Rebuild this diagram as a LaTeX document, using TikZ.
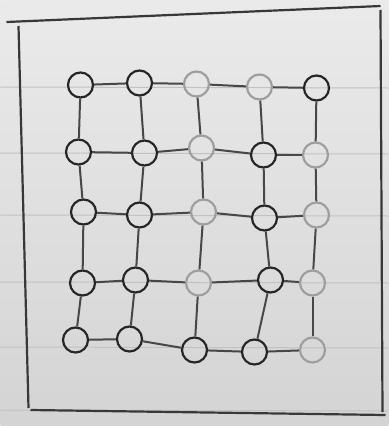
\documentclass[tikz,border=0pt]{standalone}
\begin{document}
\begin{tikzpicture}[x=1pt,y=-1pt,
  pencil/.style={draw=black!78, line width=2.2pt},
  edge/.style={draw=black!72, line width=2pt},
  ball/.style={circle, draw=black!85, line width=2.2pt, minimum size=25pt, inner sep=0pt},
  fball/.style={circle, draw=black!38, line width=2.2pt, minimum size=25pt, inner sep=0pt},
  rule/.style={draw=black!24, line width=1pt}]
\shade[top color=black!8, bottom color=black!17] (0,0) rectangle (388,426);
\foreach \y in {87,153,215,282,347,410} \draw[rule] (0,\y) -- (388,\y+1);
% frame
\coordinate (tl) at (6,22); \coordinate (tr) at (380,6);
\coordinate (bl) at (30,410); \coordinate (br) at (385,415);
\coordinate (ltop) at (18,26); \coordinate (lbot) at (28,408);
\coordinate (rtop) at (380,10); \coordinate (rbot) at (382,412);
\draw[pencil] (tl) -- (tr);
\draw[pencil] (ltop) -- (lbot);
\draw[pencil] (rtop) -- (rbot);
\draw[pencil] (bl) -- (br);
% nodes
\foreach \r/\c/\x/\y/\s in {
 1/1/80/85/ball, 1/2/139/83/ball, 1/3/196/84/fball, 1/4/259/87/fball, 1/5/316/88/ball,
 2/1/78/152/ball, 2/2/144/153/ball, 2/3/201/148/fball, 2/4/263/155/ball, 2/5/315/155/fball,
 3/1/83/212/ball, 3/2/139/215/ball, 3/3/203/212/fball, 3/4/264/218/ball, 3/5/316/215/fball,
 4/1/82/283/ball, 4/2/135/280/ball, 4/3/198/283/fball, 4/4/270/280/ball, 4/5/312/283/fball,
 5/1/75/340/ball, 5/2/129/339/ball, 5/3/194/350/ball, 5/4/254/352/ball, 5/5/312/350/fball}
 \node[\s] (n\r\c) at (\x,\y) {};
% horizontal edges
\foreach \r in {1,...,5} {
  \foreach \c/\d in {1/2,2/3,3/4,4/5} \draw[edge] (n\r\c) -- (n\r\d);
}
% vertical edges
\foreach \c in {1,...,5} {
  \foreach \r/\s in {1/2,2/3,3/4,4/5} \draw[edge] (n\r\c) -- (n\s\c);
}
\end{tikzpicture}
\end{document}
